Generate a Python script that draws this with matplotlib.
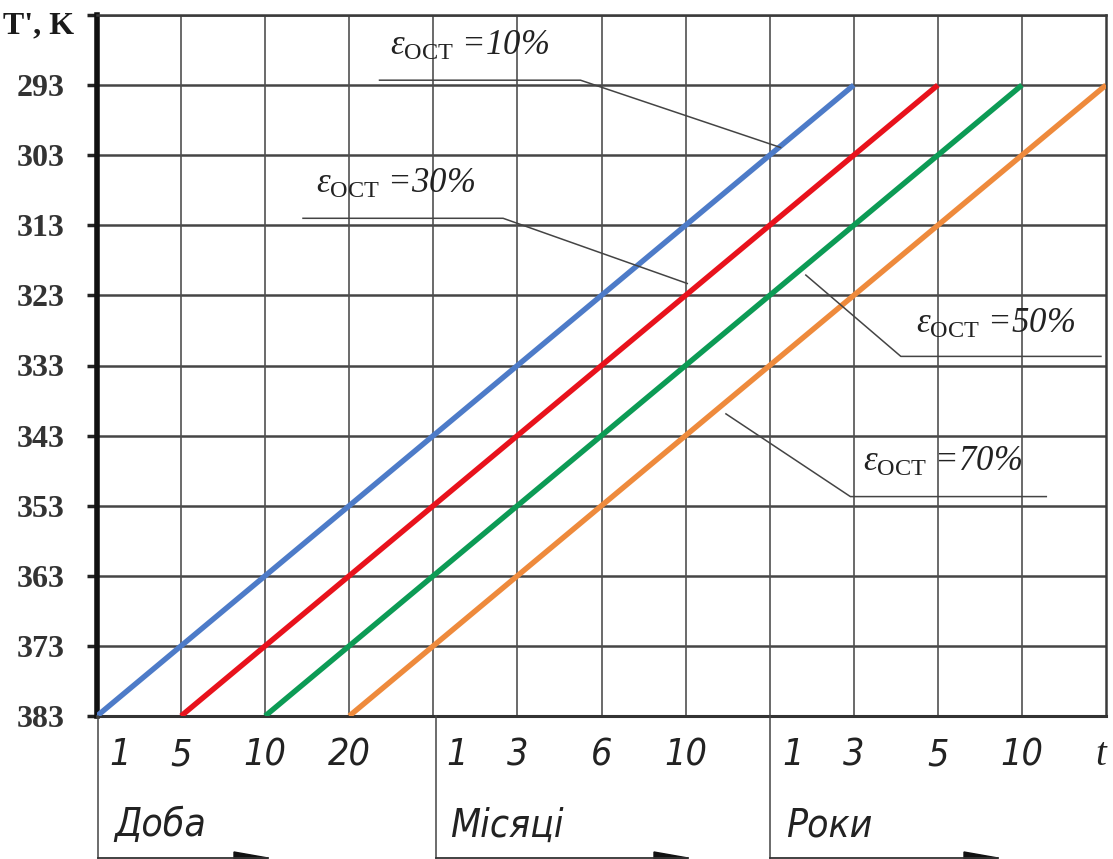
import matplotlib
matplotlib.use("Agg")
import matplotlib.pyplot as plt
from matplotlib.lines import Line2D
from matplotlib.patches import Polygon

plt.rcParams['mathtext.fontset'] = 'custom'
plt.rcParams['mathtext.rm'] = 'Liberation Serif'
plt.rcParams['mathtext.it'] = 'Liberation Serif:italic'

# температурна шкала (вісь перевернута)
temps = [293, 303, 313, 323, 333, 343, 353, 363, 373, 383]

# підписи шкали часу
t_labels = ['1', '5', '10', '20', '1', '3', '6', '10', '1', '3', '5', '10']
periods = ['Доба', 'Місяці', 'Роки']
period_start = [0, 4, 8]

# лінії для різної залишкової деформації
eps_names = ['10%', '30%', '50%', '70%']
eps_t_start = [0, 1, 2, 3]
eps_t_end = [9, 10, 11, 12]
eps_T_start = [383, 383, 383, 383]
eps_T_end = [293, 293, 293, 293]
eps_colors = ['#4d7bc8', '#e8121c', '#0c9b55', '#ee8a3c']

W, H = 1113, 859
fig = plt.figure(figsize=(W / 100, H / 100), dpi=100)
ax = fig.add_axes([97 / W, 1 - 716 / H, (1106 - 97) / W, (716 - 15) / H])

def px(x, y):
    return x / W, 1 - y / H

ax.set_xlim(0, 12)
ax.set_ylim(383, 283)

# сітка
for T in range(283, 384, 10):
    ax.axhline(T, color='#454545', lw=1.8, zorder=1)
for k in range(1, 12):
    ax.axvline(k, color='#505050', lw=1.2, zorder=1)

for x0, x1, T0, T1, c in zip(eps_t_start, eps_t_end, eps_T_start, eps_T_end, eps_colors):
    ax.plot([x0, x1], [T0, T1], color=c, lw=3.9, solid_capstyle='butt', zorder=3)

for s in ['top', 'right']:
    ax.spines[s].set_color('#3a3a3a')
    ax.spines[s].set_linewidth(1.8)
ax.spines['bottom'].set_color('#333333')
ax.spines['bottom'].set_linewidth(2.2)
ax.spines['left'].set_color('#111111')
ax.spines['left'].set_linewidth(4)

ax.set_yticks([283] + temps)
ax.set_yticklabels([''] + [str(T) for T in temps], family='Liberation Serif',
                   fontsize=23, fontweight='bold', color='#333333')
ax.tick_params(axis='y', length=7, width=2.5, color='#222222', pad=16)
ax.set_xticks([])

fig.text(*px(3, 26), "T', K", family='Liberation Serif', fontsize=23,
         fontweight='bold', va='center', ha='left', color='#1a1a1a')

# підписи шкали часу
for i, lab in enumerate(t_labels):
    dx = 0.28 if lab == '1' else 0.0
    ax.text(i + dx, 388.6, lab, ha='center', va='center', fontsize=27,
            family='DejaVu Sans', style='italic', fontstretch='condensed',
            fontweight='light', color='#222222', clip_on=False)
ax.text(11.94, 388.6, 't', ha='center', va='center', fontsize=28,
        family='Liberation Serif', style='italic', color='#222222', clip_on=False)

for name, k in zip(periods, period_start):
    ax.text(k + 0.2, 398.6, name, ha='left', va='center', fontsize=28,
            family='DejaVu Sans', style='italic', fontstretch='condensed',
            fontweight='light', color='#222222', clip_on=False)

# рамка під шкалою часу
for xp in [98, 436, 770]:
    fig.add_artist(Line2D(*zip(px(xp, 716), px(xp, 858)), color='#444444', lw=1.1))
for xa, xb in [(98, 268), (436, 688), (770, 998)]:
    fig.add_artist(Line2D(*zip(px(xa, 858), px(xb, 858)), color='#333333', lw=1.3))
    fig.add_artist(Polygon([px(xb - 34, 852), px(xb, 858), px(xb - 34, 866)],
                           closed=True, color='#111111', transform=fig.transFigure))

# виноски з позначенням кривих
leaders = [
    [(3.36, 292.3), (5.75, 292.3), (8.13, 301.9)],
    [(2.45, 312.0), (4.83, 312.0), (7.02, 321.3)],
    [(8.43, 320.1), (9.56, 331.7), (11.94, 331.7)],
    [(7.48, 339.9), (8.96, 351.7), (11.29, 351.7)],
]
text_pos = [(3.49, 288.7), (2.6, 308.4), (9.74, 328.3), (9.11, 348.0)]
for name, pts, (tx, ty) in zip(eps_names, leaders, text_pos):
    xs, ys = zip(*pts)
    ax.plot(xs, ys, color='#444444', lw=1.1, zorder=4)
    ax.text(tx, ty, r'$\varepsilon_{\mathrm{ОСТ}}$ =' + name, fontsize=25,
            family='Liberation Serif', style='italic', color='#222222',
            ha='left', va='baseline', zorder=5)

fig.savefig('out.png', dpi=100, facecolor='white')
